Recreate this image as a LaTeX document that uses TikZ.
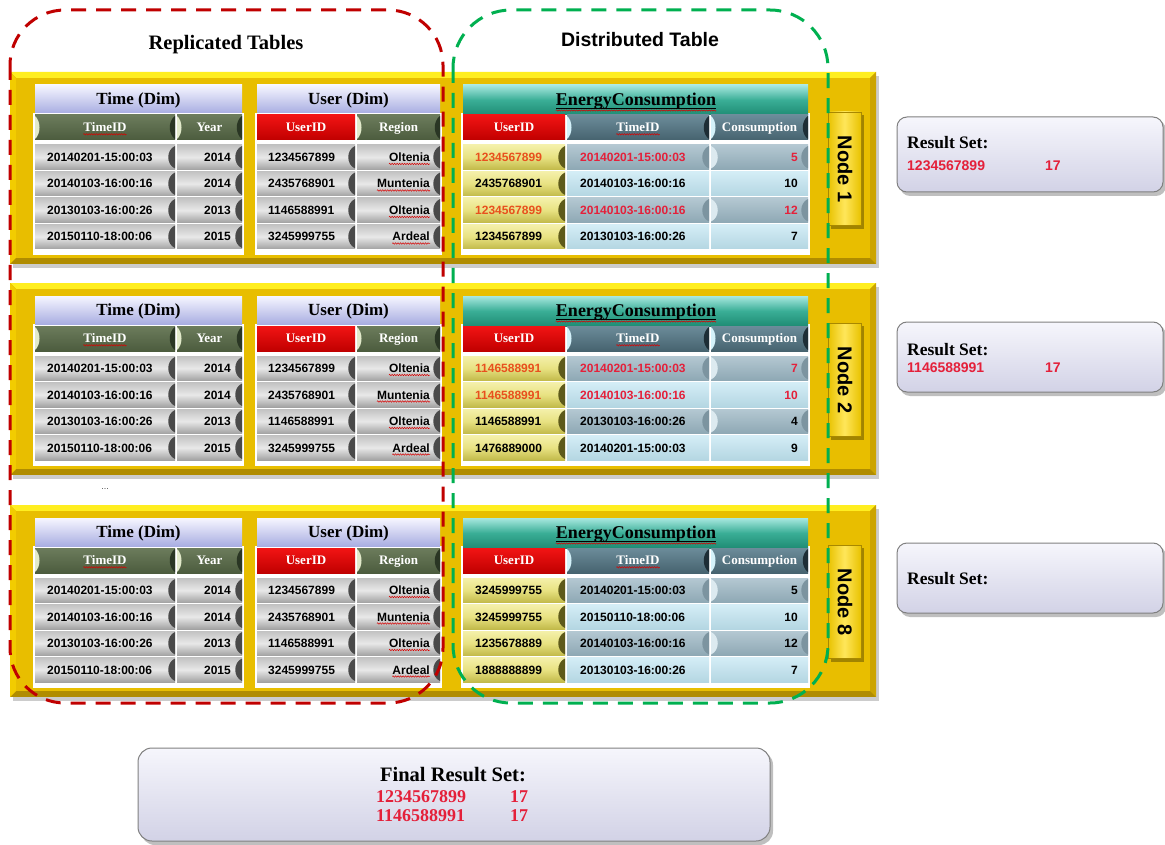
\documentclass[tikz,border=0pt]{standalone}
\usepackage{fontspec}
\setmainfont{Liberation Serif}
\setsansfont{Liberation Sans}
\usetikzlibrary{decorations.pathmorphing}

% palette
\definecolor{gold}{HTML}{E8BE00}
\definecolor{goldlight}{HTML}{FFEE20}
\definecolor{goldside}{HTML}{F2CC00}
\definecolor{goldedge}{HTML}{CCA400}
\definecolor{golddark}{HTML}{B08C00}
\definecolor{rep}{HTML}{C00000}
\definecolor{dist}{HTML}{00B050}
\definecolor{lavtop}{HTML}{F6F6FF}
\definecolor{lavbot}{HTML}{A9AEE2}
\definecolor{tealtop}{HTML}{A8E8E0}
\definecolor{tealmid}{HTML}{3AAE96}
\definecolor{tealbot}{HTML}{1F8C74}
\definecolor{olivetop}{HTML}{6C7C5C}
\definecolor{olivebot}{HTML}{4C5C3E}
\definecolor{olivelight}{HTML}{E2EACB}
\definecolor{olivedark}{HTML}{2A3624}
\definecolor{redtop}{HTML}{F21414}
\definecolor{redbot}{HTML}{C00000}
\definecolor{slatetop}{HTML}{6C8C9A}
\definecolor{slatebot}{HTML}{46636F}
\definecolor{slatelight}{HTML}{D4F2FA}
\definecolor{slatedark}{HTML}{1E2E36}
\definecolor{graytop}{HTML}{C2C2C2}
\definecolor{graymid}{HTML}{E8E8E8}
\definecolor{graybot}{HTML}{A2A2A2}
\definecolor{graynotch}{HTML}{4A4A4A}
\definecolor{yeltop}{HTML}{F4F0AA}
\definecolor{yelmid}{HTML}{E8E282}
\definecolor{yelbot}{HTML}{C2BA4A}
\definecolor{yelnotch}{HTML}{5E5A1A}
\definecolor{blueltT}{HTML}{D4EDF6}
\definecolor{blueltB}{HTML}{B4D6E2}
\definecolor{bluedkT}{HTML}{B4C8D2}
\definecolor{bluedkB}{HTML}{8EA8B4}
\definecolor{bluenotch}{HTML}{7C94A0}
\definecolor{bluehi}{HTML}{DCEAF0}
\definecolor{tabedge}{HTML}{E8C200}
\definecolor{tabmid}{HTML}{FFE65A}
\definecolor{tabline}{HTML}{A88800}
\definecolor{restop}{HTML}{F6F6FC}
\definecolor{resbot}{HTML}{D2D2E6}
\definecolor{hotred}{HTML}{E4203A}
\definecolor{hotorange}{HTML}{E8501E}

% bevelled ends of the table cells
\newcommand{\notchR}[4]{\fill[#4] (#1,{#2+1}) .. controls ({#1-9},{#2+5}) and ({#1-9},{#3-5}) .. (#1,{#3-1}) -- cycle;}
\newcommand{\notchL}[4]{\fill[#4] (#1,{#2+1}) .. controls ({#1+9},{#2+5}) and ({#1+9},{#3-5}) .. (#1,{#3-1}) -- cycle;}
\newcommand{\hnotchR}[4]{\fill[#4] (#1,{#2+1}) .. controls ({#1-7},{#2+6}) and ({#1-7},{#3-6}) .. (#1,{#3-1}) -- cycle;}
\newcommand{\hnotchL}[4]{\fill[#4] (#1,{#2+1}) .. controls ({#1+6},{#2+6}) and ({#1+6},{#3-6}) .. (#1,{#3-1}) -- cycle;}

% gold frame of one cluster node
\newcommand{\goldpanel}[1]{%
  \fill[black, opacity=.2] (13,{#1+4}) rectangle (879,{#1+196});
  \fill[golddark] (10,#1) rectangle (876,{#1+192});
  \fill[goldlight] (10,#1) -- (876,#1) -- (870,{#1+6}) -- (16,{#1+6}) -- cycle;
  \fill[goldside] (10,#1) -- (16,{#1+6}) -- (16,{#1+186}) -- (10,{#1+192}) -- cycle;
  \fill[goldedge] (876,#1) -- (870,{#1+6}) -- (870,{#1+186}) -- (876,{#1+192}) -- cycle;
  \fill[gold] (16,{#1+6}) rectangle (870,{#1+186});
}

% the two replicated dimension tables
\newcommand{\dimtables}[2]{%
  \fill[white] (33,{#1+41}) rectangle (244,{#1+183});
  \fill[white] (255,{#1+41}) rectangle (442,{#1+183});
  \shade[lavbar] (35,{#1+13}) rectangle (242,{#1+41});
  \shade[lavbar] (257,{#1+13}) rectangle (440,{#1+41});
  \node[ttl, anchor=base] (#2-time) at (138.5,{#1+32.6}) {Time (Dim)};
  \node[ttl, anchor=base] (#2-user) at (348.5,{#1+32.6}) {User (Dim)};
  \shade[olivecell] (35,{#1+43}) rectangle (175,{#1+68});
  \shade[olivecell] (177,{#1+43}) rectangle (242,{#1+68});
  \shade[redcell] (257,{#1+43}) rectangle (355,{#1+68});
  \shade[olivecell] (357,{#1+43}) rectangle (440,{#1+68});
  \hnotchL{35}{#1+43}{#1+68}{olivelight}
  \hnotchR{175}{#1+43}{#1+68}{olivedark}
  \hnotchL{177}{#1+43}{#1+68}{olivelight}
  \hnotchR{242}{#1+43}{#1+68}{olivedark}
  \hnotchL{357}{#1+43}{#1+68}{olivelight}
  \hnotchR{440}{#1+43}{#1+68}{olivedark}
  \node[hdr, anchor=base] (#2-htid) at (105,{#1+59.8}) {TimeID};
  \node[hdr, anchor=base] (#2-hyr) at (209.5,{#1+59.8}) {Year};
  \node[hdr, anchor=base] (#2-huid) at (306,{#1+59.8}) {UserID};
  \node[hdr, anchor=base] (#2-hreg) at (398.5,{#1+59.8}) {Region};
  \draw[squig] ([yshift=-2.5pt]#2-htid.base west) -- ([yshift=-2.5pt]#2-htid.base east);
  \draw[squig] ([yshift=-2.5pt]#2-huid.base west) -- ([yshift=-2.5pt]#2-huid.base east);
  \foreach \vt/\vy/\vu/\vr [count=\i from 0] in {20140201-15:00:03/2014/1234567899/Oltenia,
      20140103-16:00:16/2014/2435768901/Muntenia, 20130103-16:00:26/2013/1146588991/Oltenia,
      20150110-18:00:06/2015/3245999755/Ardeal}{
    \pgfmathsetmacro\ya{#1+73+26.5*\i}
    \pgfmathsetmacro\yb{\ya+24.5}
    \pgfmathsetmacro\yt{\ya+16.5}
    \shade[graycell] (35,\ya) rectangle (175,\yb);
    \shade[graycell] (177,\ya) rectangle (242,\yb);
    \shade[graycell] (257,\ya) rectangle (355,\yb);
    \shade[graycell] (357,\ya) rectangle (440,\yb);
    \notchR{175}{\ya}{\yb}{graynotch}
    \notchR{242}{\ya}{\yb}{graynotch}
    \notchR{355}{\ya}{\yb}{graynotch}
    \notchR{440}{\ya}{\yb}{graynotch}
    \node[dat, anchor=base west] (#2-t\i) at (47,\yt) {\vt};
    \node[dat, anchor=base east] (#2-y\i) at (231,\yt) {\vy};
    \node[dat, anchor=base west] (#2-u\i) at (268,\yt) {\vu};
    \node[dat, anchor=base east] (#2-r\i) at (430,\yt) {\vr};
    \draw[squig] ([yshift=-2.5pt]#2-r\i.base west) -- ([yshift=-2.5pt]#2-r\i.base east);
  }
}

% the distributed fact table held by one node
\newcommand{\energytable}[3]{%
  \fill[white] (461,{#1+41}) rectangle (810,{#1+183});
  \shade[tealbar] (463,{#1+13}) rectangle (808,{#1+43});
  \node[font=\fontsize{18}{18}\selectfont\bfseries, inner sep=0pt, anchor=base] (#2-etitle) at (636,{#1+33.5}) {EnergyConsumption};
  \draw[black, line width=0.6pt] ([yshift=-3pt]#2-etitle.base west) -- ([yshift=-3pt]#2-etitle.base east);
  \draw[squig] ([yshift=-5pt]#2-etitle.base west) -- ([yshift=-5pt]#2-etitle.base east);
  \shade[redcell] (463,{#1+43}) rectangle (565,{#1+68});
  \shade[slatecell] (567,{#1+43}) rectangle (709,{#1+68});
  \shade[slatecell] (711,{#1+43}) rectangle (808,{#1+68});
  \hnotchL{567}{#1+43}{#1+68}{slatelight}
  \hnotchR{709}{#1+43}{#1+68}{slatedark}
  \hnotchL{711}{#1+43}{#1+68}{slatelight}
  \hnotchR{808}{#1+43}{#1+68}{slatedark}
  \node[hdr, anchor=base] (#2-euid) at (514,{#1+59.8}) {UserID};
  \node[hdr, anchor=base] (#2-etid) at (638,{#1+59.8}) {TimeID};
  \node[hdr, anchor=base] (#2-econ) at (759.5,{#1+59.8}) {Consumption};
  \draw[squig] ([yshift=-2.5pt]#2-euid.base west) -- ([yshift=-2.5pt]#2-euid.base east);
  \draw[squig] ([yshift=-2.5pt]#2-etid.base west) -- ([yshift=-2.5pt]#2-etid.base east);
  \foreach \vu/\vt/\vc/\cu/\ct [count=\i from 0] in {#3}{
    \pgfmathsetmacro\ya{#1+73+26.5*\i}
    \pgfmathsetmacro\yb{\ya+24.5}
    \pgfmathsetmacro\yt{\ya+16.5}
    \shade[yelcell] (463,\ya) rectangle (565,\yb);
    \notchR{565}{\ya}{\yb}{yelnotch}
    \ifodd\i
      \shade[bluelt] (567,\ya) rectangle (709,\yb);
      \shade[bluelt] (711,\ya) rectangle (808,\yb);
    \else
      \shade[bluedk] (567,\ya) rectangle (709,\yb);
      \shade[bluedk] (711,\ya) rectangle (808,\yb);
      \notchR{709}{\ya}{\yb}{bluenotch}
      \notchL{711}{\ya}{\yb}{bluehi}
      \notchR{808}{\ya}{\yb}{bluenotch}
    \fi
    \node[dat, anchor=base west, text=\cu] (#2-eu\i) at (475,\yt) {\vu};
    \node[dat, anchor=base west, text=\ct] (#2-et\i) at (580,\yt) {\vt};
    \node[dat, anchor=base east, text=\ct] (#2-ec\i) at (798,\yt) {\vc};
  }
}

% vertical name tab of a node
\newcommand{\nodetab}[3]{%
  \fill[black, opacity=.3] (831,{#1+43}) rectangle (864,{#1+157});
  \shadedraw[left color=tabedge, right color=tabedge, middle color=tabmid, draw=tabline, line width=0.8pt] (828,{#1+40}) rectangle (861,{#1+153});
  \node[rotate=-90, inner sep=0pt, font=\sffamily\bfseries\fontsize{20}{20}\selectfont] (#2-lab) at (845,{#1+97}) {#3};
}

\begin{document}
\begin{tikzpicture}[x=1pt, y=-1pt,
  lavbar/.style={top color=lavtop, bottom color=lavbot},
  tealbar/.style={top color=tealtop, bottom color=tealbot, middle color=tealmid},
  olivecell/.style={top color=olivetop, bottom color=olivebot},
  redcell/.style={top color=redtop, bottom color=redbot},
  slatecell/.style={top color=slatetop, bottom color=slatebot},
  graycell/.style={top color=graytop, bottom color=graybot, middle color=graymid},
  yelcell/.style={top color=yeltop, bottom color=yelbot, middle color=yelmid},
  bluelt/.style={top color=blueltT, bottom color=blueltB},
  bluedk/.style={top color=bluedkT, bottom color=bluedkB},
  ttl/.style={inner sep=0pt, font=\fontsize{17}{17}\selectfont\bfseries},
  hdr/.style={inner sep=0pt, text=white, font=\fontsize{13}{13}\selectfont\bfseries},
  dat/.style={inner sep=0pt, font=\sffamily\bfseries\fontsize{12}{12}\selectfont},
  squig/.style={draw=red!85!black, line width=0.5pt, decorate, decoration={snake, amplitude=0.7pt, segment length=2.5pt}},
  resbox/.style={rounded corners=10pt, top color=restop, bottom color=resbot, draw=black!50, line width=1pt},
  restitle/.style={inner sep=0pt, font=\fontsize{17.5}{18}\selectfont\bfseries},
  resval/.style={inner sep=0pt, text=hotred, font=\sffamily\bfseries\fontsize{14}{14}\selectfont},
  finval/.style={inner sep=0pt, text=hotred, font=\fontsize{18}{18}\selectfont\bfseries},
  repline/.style={draw=rep, line width=3pt, dash pattern=on 15pt off 10pt, rounded corners=55pt},
  distline/.style={draw=dist, line width=3pt, dash pattern=on 15pt off 10pt, rounded corners=58pt}]
\useasboundingbox (0,0) rectangle (1165,845);
\fill[white] (0,0) rectangle (1165,845);

% group headings
\node[inner sep=0pt, anchor=base, font=\fontsize{20.5}{21}\selectfont\bfseries] (reptitle) at (226,50) {Replicated Tables};
\node[inner sep=0pt, anchor=base, font=\sffamily\bfseries\fontsize{19.5}{20}\selectfont] (disttitle) at (640,47) {Distributed Table};

% node 1
\goldpanel{72}
\dimtables{72}{n1}
\energytable{72}{n1}{1234567899/20140201-15:00:03/5/hotorange/hotred,
  2435768901/20140103-16:00:16/10/black/black,
  1234567899/20140103-16:00:16/12/hotorange/hotred,
  1234567899/20130103-16:00:26/7/black/black}
\nodetab{72}{n1}{Node 1}

% node 2
\goldpanel{283}
\dimtables{283}{n2}
\energytable{283}{n2}{1146588991/20140201-15:00:03/7/hotorange/hotred,
  1146588991/20140103-16:00:16/10/hotorange/hotred,
  1146588991/20130103-16:00:26/4/black/black,
  1476889000/20140201-15:00:03/9/black/black}
\nodetab{283}{n2}{Node 2}

\node[inner sep=0pt, text=black!70, font=\sffamily\fontsize{9}{9}\selectfont] (dots) at (105,489) {...};

% node 8
\goldpanel{505}
\dimtables{505}{n8}
\energytable{505}{n8}{3245999755/20140201-15:00:03/5/black/black,
  3245999755/20150110-18:00:06/10/black/black,
  1235678889/20140103-16:00:16/12/black/black,
  1888888899/20130103-16:00:26/7/black/black}
\nodetab{505}{n8}{Node 8}

% per-node result sets
\fill[black, opacity=.25, rounded corners=10pt] (900,120) rectangle (1166,196);
\shadedraw[resbox] (897,117) rectangle (1163,192);
\node[restitle, anchor=base west] (r1t) at (907,149) {Result Set:};
\node[resval, anchor=base west] (r1u) at (907,171) {1234567899};
\node[resval, anchor=base west] (r1c) at (1045,171) {17};

\fill[black, opacity=.25, rounded corners=10pt] (900,325) rectangle (1166,396);
\shadedraw[resbox] (897,322) rectangle (1163,392);
\node[restitle, anchor=base west] (r2t) at (907,355) {Result Set:};
\node[resval, anchor=base west] (r2u) at (907,372) {1146588991};
\node[resval, anchor=base west] (r2c) at (1045,372) {17};

\fill[black, opacity=.25, rounded corners=10pt] (900,546) rectangle (1166,617);
\shadedraw[resbox] (897,543) rectangle (1163,613);
\node[restitle, anchor=base west] (r8t) at (907,584) {Result Set:};

% merged result
\fill[black, opacity=.25, rounded corners=14pt] (141,751) rectangle (773,845);
\shadedraw[resbox, rounded corners=14pt] (138,748) rectangle (770,841);
\node[inner sep=0pt, anchor=base, font=\fontsize{20.5}{21}\selectfont\bfseries] (fint) at (453,781) {Final Result Set:};
\node[finval, anchor=base west] (f1u) at (376,802) {1234567899};
\node[finval, anchor=base west] (f1c) at (510,802) {17};
\node[finval, anchor=base west] (f2u) at (376,821) {1146588991};
\node[finval, anchor=base west] (f2c) at (510,821) {17};

% replicated / distributed groupings
\draw[repline] (10,10) rectangle (443,703);
\draw[distline] (453,10) rectangle (828,703);
\end{tikzpicture}
\end{document}
